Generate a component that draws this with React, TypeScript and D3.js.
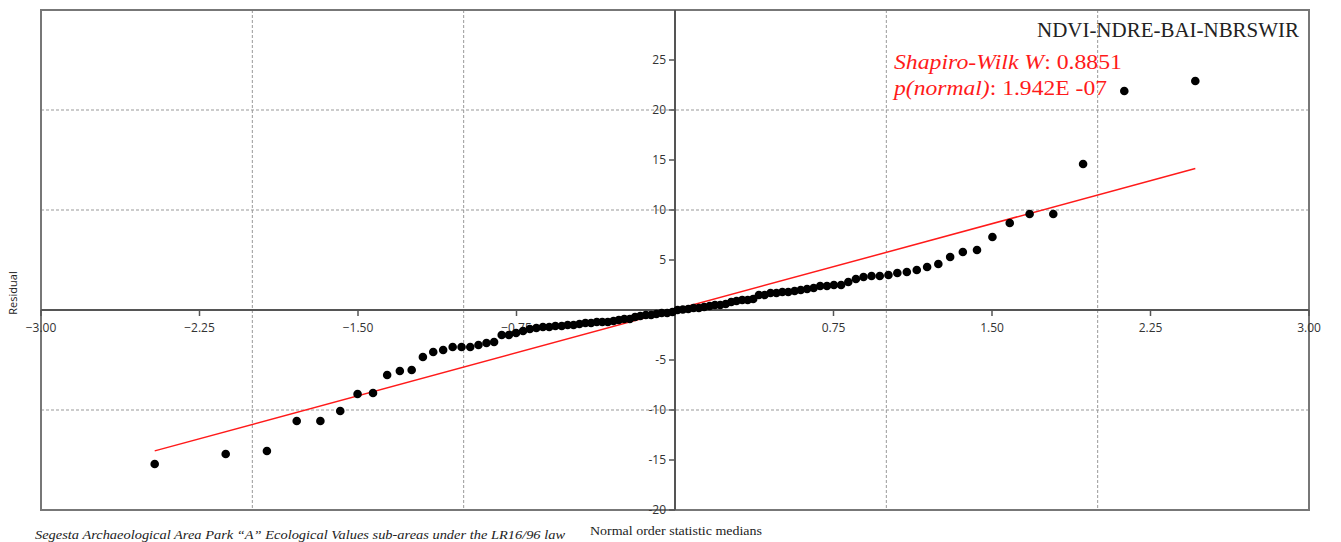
import React from "react";
import * as d3 from "d3";

// normal order statistic medians (x) and sorted residuals (y)
const medians = [
  -2.462, -2.126, -1.931, -1.79, -1.678, -1.584, -1.502, -1.429, -1.362, -1.302,
  -1.246, -1.193, -1.144, -1.097, -1.052, -1.01, -0.969, -0.93, -0.892, -0.856,
  -0.82, -0.786, -0.752, -0.719, -0.687, -0.656, -0.625, -0.595, -0.566, -0.536,
  -0.508, -0.48, -0.452, -0.424, -0.397, -0.37, -0.344, -0.318, -0.291, -0.266,
  -0.24, -0.214, -0.189, -0.164, -0.138, -0.113, -0.088, -0.063, -0.037, -0.012,
  0.012, 0.037, 0.063, 0.088, 0.113, 0.138, 0.164, 0.189, 0.214, 0.24,
  0.266, 0.291, 0.318, 0.344, 0.37, 0.397, 0.424, 0.452, 0.48, 0.508,
  0.536, 0.566, 0.595, 0.625, 0.656, 0.687, 0.719, 0.752, 0.786, 0.82,
  0.856, 0.892, 0.93, 0.969, 1.01, 1.052, 1.097, 1.144, 1.193, 1.246,
  1.302, 1.362, 1.429, 1.502, 1.584, 1.678, 1.79, 1.931, 2.126, 2.462,
];

const residuals = [
  -15.4, -14.4, -14.1, -11.1, -11.1, -10.1, -8.4, -8.3, -6.5, -6.1,
  -6.0, -4.7, -4.2, -4.0, -3.7, -3.7, -3.7, -3.5, -3.3, -3.2,
  -2.5, -2.5, -2.3, -2.1, -1.9, -1.8, -1.7, -1.7, -1.6, -1.6,
  -1.5, -1.5, -1.4, -1.3, -1.3, -1.2, -1.2, -1.2, -1.1, -1.0,
  -0.9, -0.9, -0.7, -0.6, -0.5, -0.5, -0.4, -0.3, -0.3, -0.2,
  0.0, 0.05, 0.1, 0.2, 0.2, 0.3, 0.4, 0.5, 0.5, 0.6,
  0.8, 0.9, 1.0, 1.0, 1.1, 1.5, 1.5, 1.7, 1.7, 1.8,
  1.8, 1.9, 2.0, 2.1, 2.2, 2.4, 2.4, 2.5, 2.5, 2.8,
  3.1, 3.3, 3.4, 3.4, 3.5, 3.7, 3.8, 4.0, 4.3, 4.6,
  5.3, 5.8, 6.0, 7.3, 8.7, 9.6, 9.6, 14.6, 21.9, 22.9,
];

const xTicks = [-3, -2.25, -1.5, -0.75, 0.75, 1.5, 2.25, 3];
const yTicks = [-20, -15, -10, -5, 5, 10, 15, 20, 25];
const xGrid = [-2, -1, 1, 2];
const yGrid = [-10, 10, 20];

const fitIntercept = 0.03;
const fitSlope = 5.735;

const title = "NDVI-NDRE-BAI-NBRSWIR";
const swW = "0.8851";
const swP = "1.942E -07";

const App = () => {
  const width = 1341;
  const height = 542;
  const x = d3.scaleLinear().domain([-3, 3]).range([41, 1309]);
  const y = d3.scaleLinear().domain([-20, 30]).range([510, 10]);

  const pts = medians.map((m, i) => ({ x: m, y: residuals[i] }));
  const xExt = d3.extent(medians) as [number, number];
  const fit = d3
    .line<number>()
    .x((d) => x(d))
    .y((d) => y(fitIntercept + fitSlope * d));

  const tickFont = { fontFamily: "'Open Sans', 'DejaVu Sans', sans-serif", fontSize: 12, fill: "#333" };
  const serif = "'Liberation Serif', 'DejaVu Serif', serif";

  return (
    <svg
      width={width}
      height={height}
      style={{ position: "absolute", left: 0, top: 0, background: "#fff" }}
    >
      {/* grid */}
      {xGrid.map((g) => (
        <line key={"gx" + g} x1={x(g)} x2={x(g)} y1={y(30)} y2={y(-20)}
          stroke="#999" strokeWidth={1} strokeDasharray="3,2" />
      ))}
      {yGrid.map((g) => (
        <line key={"gy" + g} x1={x(-3)} x2={x(3)} y1={y(g)} y2={y(g)}
          stroke="#999" strokeWidth={1} strokeDasharray="3,2" />
      ))}

      {/* frame */}
      <rect x={x(-3)} y={y(30)} width={x(3) - x(-3)} height={y(-20) - y(30)}
        fill="none" stroke="#777" strokeWidth={2} />

      {/* axes through zero */}
      <line x1={x(-3)} x2={x(3)} y1={y(0)} y2={y(0)} stroke="#555" strokeWidth={2} />
      <line x1={x(0)} x2={x(0)} y1={y(30)} y2={y(-20)} stroke="#555" strokeWidth={2} />

      {xTicks.map((t) => (
        <g key={"xt" + t}>
          <line x1={x(t)} x2={x(t)} y1={y(0)} y2={y(0) + 6} stroke="#555" strokeWidth={1.5} />
          <text x={x(t)} y={y(0) + 22} textAnchor="middle" {...tickFont}>
            {d3.format(".2f")(t)}
          </text>
        </g>
      ))}
      {yTicks.map((t) => (
        <g key={"yt" + t}>
          <line x1={x(0) - 6} x2={x(0)} y1={y(t)} y2={y(t)} stroke="#555" strokeWidth={1.5} />
          <text x={x(0) - 9} y={y(t) + 4} textAnchor="end" {...tickFont}>
            {t}
          </text>
        </g>
      ))}

      {/* fitted line */}
      <path d={fit(xExt) || ""} fill="none" stroke="#ff1a1a" strokeWidth={1.5} />

      {/* points */}
      {pts.map((p, i) => (
        <circle key={i} cx={x(p.x)} cy={y(p.y)} r={4.3} fill="#000" />
      ))}

      {/* annotations */}
      <text x={1299} y={37} textAnchor="end" fontFamily={serif} fontSize={20}
        textLength={262} lengthAdjust="spacingAndGlyphs" fill="#222">
        {title}
      </text>
      <text x={894} y={69} fontFamily={serif} fontSize={21} fill="#ff1a1a"
        textLength={228} lengthAdjust="spacingAndGlyphs">
        <tspan fontStyle="italic">Shapiro-Wilk W</tspan>: {swW}
      </text>
      <text x={894} y={95} fontFamily={serif} fontSize={21} fill="#ff1a1a"
        textLength={213} lengthAdjust="spacingAndGlyphs">
        <tspan fontStyle="italic">p(normal)</tspan>: {swP}
      </text>

      <text transform={`translate(17,${293}) rotate(-90)`} textAnchor="middle"
        fontFamily="'Open Sans', 'DejaVu Sans', sans-serif" fontSize={11} fill="#222">
        Residual
      </text>
      <text x={590} y={535} fontFamily={serif} fontSize={13} fill="#222"
        textLength={172} lengthAdjust="spacingAndGlyphs">
        Normal order statistic medians
      </text>
      <text x={35} y={539} fontFamily={serif} fontSize={13.5} fontStyle="italic" fill="#222"
        textLength={530} lengthAdjust="spacingAndGlyphs">
        Segesta Archaeological Area Park “A” Ecological Values sub-areas under the LR16/96 law
      </text>
    </svg>
  );
};

export default App;
